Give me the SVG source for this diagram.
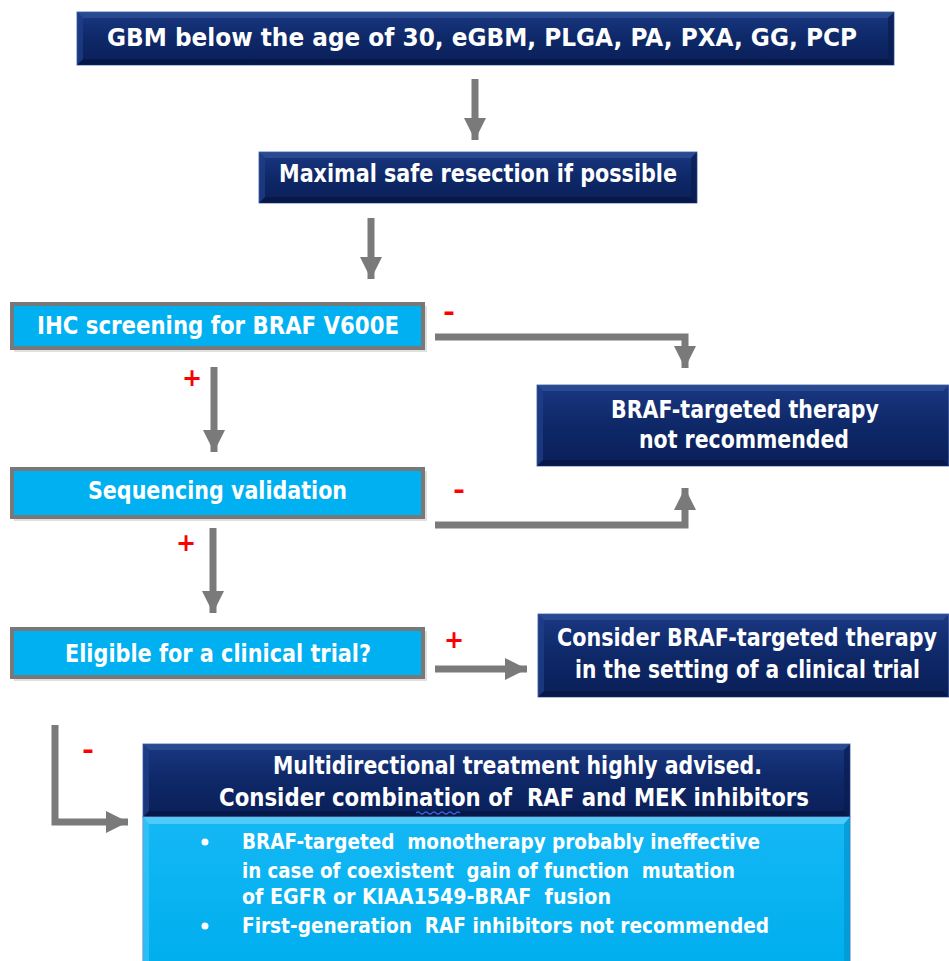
<svg xmlns="http://www.w3.org/2000/svg" width="949" height="961" viewBox="0 0 949 961">
  <defs>
    <linearGradient id="navy" x1="0" y1="0" x2="0" y2="1">
      <stop offset="0" stop-color="#1a3882"/>
      <stop offset="0.5" stop-color="#0e2868"/>
      <stop offset="1" stop-color="#0a1f58"/>
    </linearGradient>
    <linearGradient id="sky" x1="0" y1="0" x2="0" y2="1">
      <stop offset="0" stop-color="#14b8f4"/>
      <stop offset="1" stop-color="#00aeee"/>
    </linearGradient>
    <marker id="ah" markerUnits="userSpaceOnUse" markerWidth="22" markerHeight="22" viewBox="0 0 20 20" refX="20" refY="10" orient="auto">
      <path d="M0,0 L20,10 L0,20 Z" fill="#7a7a7a"/>
    </marker>
    <style>
      .navy { fill: url(#navy); stroke: #5f7bb8; stroke-width: 1; }
      .bvl { fill: #2d4c94; opacity: 0.85; }
      .bvd { fill: #061847; opacity: 0.85; }
      .bvm { fill: #21408a; opacity: 0.7; }
      .bvn { fill: #081c50; opacity: 0.7; }
      .lb { fill: #00b0f0; stroke: #787878; stroke-width: 4; }
      .shadow { fill: #000; opacity: 0.12; }
      .t { font-family: "DejaVu Sans", Verdana, sans-serif; font-weight: bold; fill: #ffffff; }
      .big { font-size: 25px; }
      .sm { font-size: 21px; }
      .mark { font-family: "DejaVu Sans", sans-serif; font-weight: bold; fill: #ff0000; font-size: 24px; }
      .conn { stroke: #7a7a7a; stroke-width: 7; fill: none; stroke-linejoin: miter; }
    </style>
  </defs>
  <rect width="949" height="961" fill="#ffffff"/>

  <g id="n-top">
    <rect class="navy" x="77" y="12" width="817" height="53"/>
    <polygon class="bvl" points="77,12 894,12 888,18 83,18"/>
    <polygon class="bvd" points="77,65 894,65 888,59 83,59"/>
    <polygon class="bvm" points="77,12 83,18 83,59 77,65"/>
    <polygon class="bvn" points="894,12 888,18 888,59 894,65"/>
    <text class="t big" transform="translate(107,46) scale(0.82,1)" textLength="914.6" lengthAdjust="spacingAndGlyphs">GBM below the age of 30, eGBM, PLGA, PA, PXA, GG, PCP</text>
  </g>

  <g id="n-resection">
    <rect class="navy" x="259" y="152" width="438" height="51"/>
    <polygon class="bvl" points="259,152 697,152 691,158 265,158"/>
    <polygon class="bvd" points="259,203 697,203 691,197 265,197"/>
    <polygon class="bvm" points="259,152 265,158 265,197 259,203"/>
    <polygon class="bvn" points="697,152 691,158 691,197 697,203"/>
    <text class="t big" transform="translate(279,182) scale(0.82,1)" textLength="485.4" lengthAdjust="spacingAndGlyphs">Maximal safe resection if possible</text>
  </g>

  <g id="n-ihc">
    <rect class="shadow" x="14" y="306" width="413" height="46"/>
    <rect class="lb" x="12" y="304" width="411" height="44"/>
    <text class="t big" transform="translate(37,334) scale(0.82,1)" textLength="441.5" lengthAdjust="spacingAndGlyphs">IHC screening for BRAF V600E</text>
  </g>

  <g id="n-notrec">
    <rect class="navy" x="537" y="385" width="412" height="81"/>
    <polygon class="bvl" points="537,385 949,385 943,391 543,391"/>
    <polygon class="bvd" points="537,466 949,466 943,460 543,460"/>
    <polygon class="bvm" points="537,385 543,391 543,460 537,466"/>
    <text class="t big" transform="translate(611,418) scale(0.82,1)" textLength="326.8" lengthAdjust="spacingAndGlyphs">BRAF-targeted therapy</text>
    <text class="t big" transform="translate(639,448) scale(0.82,1)" textLength="256.1" lengthAdjust="spacingAndGlyphs">not recommended</text>
  </g>

  <g id="n-seq">
    <rect class="shadow" x="14" y="471" width="413" height="50"/>
    <rect class="lb" x="12" y="469" width="411" height="48"/>
    <text class="t big" transform="translate(88,499) scale(0.82,1)" textLength="315.9" lengthAdjust="spacingAndGlyphs">Sequencing validation</text>
  </g>

  <g id="n-eligible">
    <rect class="shadow" x="14" y="631" width="413" height="50"/>
    <rect class="lb" x="12" y="629" width="411" height="48"/>
    <text class="t big" transform="translate(65,662) scale(0.82,1)" textLength="373.2" lengthAdjust="spacingAndGlyphs">Eligible for a clinical trial?</text>
  </g>

  <g id="n-trial">
    <rect class="navy" x="538" y="614" width="411" height="83"/>
    <polygon class="bvl" points="538,614 949,614 943,620 544,620"/>
    <polygon class="bvd" points="538,697 949,697 943,691 544,691"/>
    <polygon class="bvm" points="538,614 544,620 544,691 538,697"/>
    <text class="t big" transform="translate(557,646) scale(0.82,1)" textLength="463.4" lengthAdjust="spacingAndGlyphs">Consider BRAF-targeted therapy</text>
    <text class="t big" transform="translate(575,678) scale(0.82,1)" textLength="420.7" lengthAdjust="spacingAndGlyphs">in the setting of a clinical trial</text>
  </g>

  <g id="n-multi">
    <rect class="navy" x="143" y="744" width="707" height="73"/>
    <polygon class="bvl" points="143,744 850,744 844,750 149,750"/>
    <polygon class="bvd" points="143,817 850,817 844,811 149,811"/>
    <polygon class="bvm" points="143,744 149,750 149,811 143,817"/>
    <polygon class="bvn" points="850,744 844,750 844,811 850,817"/>
    <text class="t big" transform="translate(273,774) scale(0.82,1)" textLength="596.3" lengthAdjust="spacingAndGlyphs">Multidirectional treatment highly advised.</text>
    <text class="t big" transform="translate(219,806) scale(0.82,1)" textLength="719.5" lengthAdjust="spacingAndGlyphs" xml:space="preserve">Consider combination of  RAF and MEK inhibitors</text>
    <path d="M416,813 q2,-2 4,0 t4,0 t4,0 t4,0 t4,0 t4,0 t4,0 t4,0 t4,0 t4,0 t4,0" fill="none" stroke="#3a5fd0" stroke-width="1.2"/>
    <rect x="143" y="817" width="707" height="146" fill="url(#sky)" stroke="#5f7bb8" stroke-width="1"/>
    <polygon points="143,817 850,817 844,824 149,824" fill="#5fd0fa" opacity="0.8"/>
    <polygon points="143,817 149,824 149,963 143,963" fill="#3cc4f6" opacity="0.7"/>
    <polygon points="850,817 844,824 844,963 850,963" fill="#0096d0" opacity="0.7"/>
    <circle cx="205" cy="842" r="3.5" fill="#ffffff"/>
    <circle cx="205" cy="926" r="3.5" fill="#ffffff"/>
    <text class="t sm" transform="translate(242,849) scale(0.82,1)" textLength="631.7" lengthAdjust="spacingAndGlyphs" xml:space="preserve">BRAF-targeted  monotherapy probably ineffective</text>
    <text class="t sm" transform="translate(242,878) scale(0.82,1)" textLength="601.2" lengthAdjust="spacingAndGlyphs" xml:space="preserve">in case of coexistent  gain of function  mutation</text>
    <text class="t sm" transform="translate(242,904) scale(0.82,1)" textLength="450" lengthAdjust="spacingAndGlyphs" xml:space="preserve">of EGFR or KIAA1549-BRAF  fusion</text>
    <text class="t sm" transform="translate(242,933) scale(0.82,1)" textLength="642.7" lengthAdjust="spacingAndGlyphs" xml:space="preserve">First-generation  RAF inhibitors not recommended</text>
  </g>

  <g id="connectors">
    <line class="conn" x1="475" y1="79" x2="475" y2="140" marker-end="url(#ah)"/>
    <line class="conn" x1="371" y1="218" x2="371" y2="279" marker-end="url(#ah)"/>
    <line class="conn" x1="214" y1="367" x2="214" y2="452" marker-end="url(#ah)"/>
    <line class="conn" x1="213" y1="528" x2="213" y2="613" marker-end="url(#ah)"/>
    <polyline class="conn" points="435,337 685,337 685,368" marker-end="url(#ah)"/>
    <polyline class="conn" points="435,525 685,525 685,488" marker-end="url(#ah)"/>
    <line class="conn" x1="435" y1="669" x2="527" y2="669" marker-end="url(#ah)"/>
    <polyline class="conn" points="55,725 55,822 128,822" marker-end="url(#ah)"/>
  </g>

  <g id="labels">
    <text class="mark" x="449" y="320" text-anchor="middle" textLength="12" lengthAdjust="spacingAndGlyphs">-</text>
    <text class="mark" x="459" y="498" text-anchor="middle" textLength="12" lengthAdjust="spacingAndGlyphs">-</text>
    <text class="mark" x="88" y="758" text-anchor="middle" textLength="12" lengthAdjust="spacingAndGlyphs">-</text>
    <text class="mark" x="192" y="386" text-anchor="middle">+</text>
    <text class="mark" x="186" y="551" text-anchor="middle">+</text>
    <text class="mark" x="454" y="648" text-anchor="middle">+</text>
  </g>
</svg>
